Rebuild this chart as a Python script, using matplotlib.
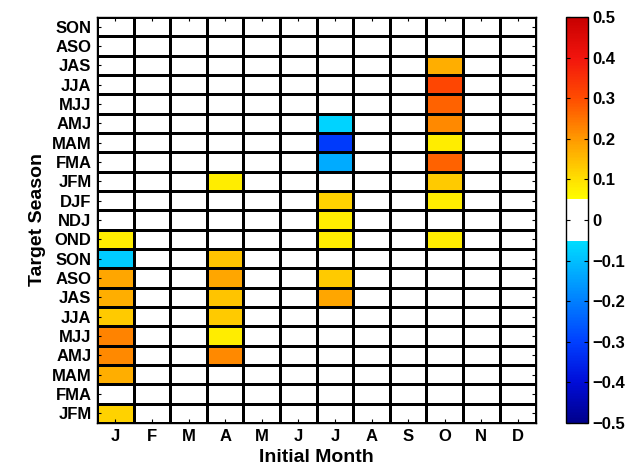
import matplotlib.pyplot as plt
import numpy as np
from matplotlib.colors import LinearSegmentedColormap

plt.rcParams['font.family'] = ['Liberation Sans', 'DejaVu Sans']
plt.rcParams['font.weight'] = 'bold'

months = ['J', 'F', 'M', 'A', 'M', 'J', 'J', 'A', 'S', 'O', 'N', 'D']
# target seasons, bottom to top
seasons = ['JFM', 'FMA', 'MAM', 'AMJ', 'MJJ', 'JJA', 'JAS', 'ASO', 'SON',
           'OND', 'NDJ', 'DJF', 'JFM', 'FMA', 'MAM', 'AMJ', 'MJJ', 'JJA',
           'JAS', 'ASO', 'SON']

# non-blank columns (values bottom to top, 0 = not significant)
col_jan = [0.12, 0, 0.17, 0.22, 0.23, 0.13, 0.17, 0.18, -0.08, 0.08,
           0, 0, 0, 0, 0, 0, 0, 0, 0, 0, 0]
col_apr = [0, 0, 0, 0.22, 0.08, 0.13, 0.14, 0.18, 0.14, 0,
           0, 0, 0.08, 0, 0, 0, 0, 0, 0, 0, 0]
col_jul = [0, 0, 0, 0, 0, 0, 0.18, 0.13, 0, 0.08,
           0.08, 0.12, 0, -0.13, -0.31, -0.07, 0, 0, 0, 0, 0]
col_oct = [0, 0, 0, 0, 0, 0, 0, 0, 0, 0.08,
           0, 0.08, 0.13, 0.27, 0.08, 0.22, 0.27, 0.31, 0.17, 0, 0]

data = np.zeros((len(seasons), len(months)))
data[:, 0] = col_jan
data[:, 3] = col_apr
data[:, 6] = col_jul
data[:, 9] = col_oct

# jet-like map with a white band for |r| < 0.05
cmap = LinearSegmentedColormap.from_list('jetwhite', [
    (0.00, (0.0, 0.0, 0.55)),
    (0.10, (0.0, 0.05, 0.85)),
    (0.20, (0.0, 0.25, 1.0)),
    (0.30, (0.0, 0.5, 1.0)),
    (0.40, (0.0, 0.75, 1.0)),
    (0.449, (0.0, 0.87, 1.0)),
    (0.45, (1.0, 1.0, 1.0)),
    (0.55, (1.0, 1.0, 1.0)),
    (0.551, (1.0, 1.0, 0.0)),
    (0.60, (1.0, 0.88, 0.0)),
    (0.70, (1.0, 0.6, 0.0)),
    (0.80, (1.0, 0.3, 0.0)),
    (0.90, (0.95, 0.08, 0.05)),
    (1.00, (0.78, 0.0, 0.0)),
])

fig = plt.figure(figsize=(6.43, 4.71), dpi=100)
ax = fig.add_axes([0.151, 0.102, 0.683, 0.862])
cax = fig.add_axes([0.880, 0.102, 0.034, 0.862])

mesh = ax.pcolormesh(np.arange(len(months) + 1), np.arange(len(seasons) + 1), data,
                     cmap=cmap, vmin=-0.5, vmax=0.5, edgecolors='black', linewidth=1.0)

ax.set_xticks(np.arange(len(months)) + 0.5)
ax.set_xticklabels(months, fontsize=12, fontweight='bold')
ax.set_yticks(np.arange(len(seasons)) + 0.5)
ax.set_yticklabels(seasons, fontsize=12, fontweight='bold')
ax.tick_params(direction='in', length=3, top=True, right=True, pad=4)
ax.set_xlabel('Initial Month', fontsize=14, fontweight='bold')
ax.set_ylabel('Target Season', fontsize=14, fontweight='bold')
for s in ax.spines.values():
    s.set_linewidth(1.0)

cb = fig.colorbar(mesh, cax=cax, ticks=np.arange(-0.5, 0.51, 0.1))
cb.ax.set_yticklabels(['\u22120.5', '\u22120.4', '\u22120.3', '\u22120.2', '\u22120.1', '0',
                       '0.1', '0.2', '0.3', '0.4', '0.5'], fontsize=12, fontweight='bold')
cb.ax.tick_params(direction='in', length=3, left=True, right=True)
cb.outline.set_linewidth(1.0)

fig.savefig('out.png', dpi=100)
